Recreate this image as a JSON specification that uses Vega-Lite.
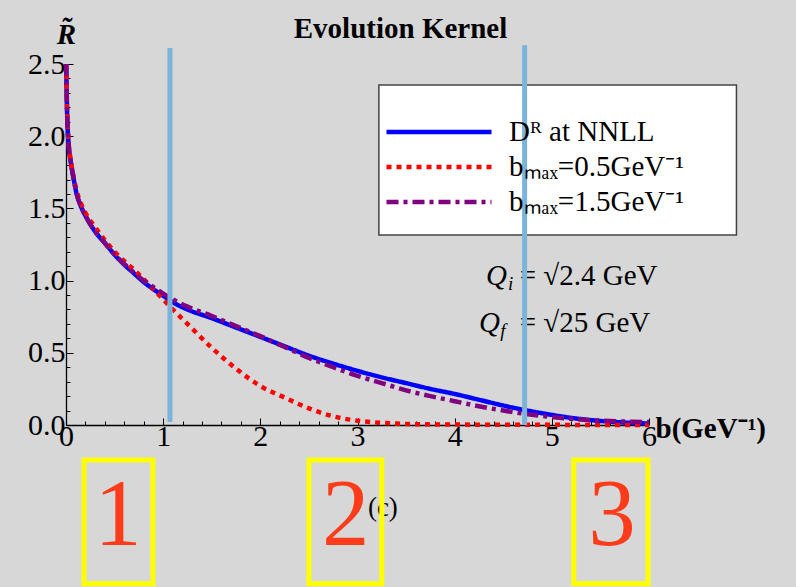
{
  "$schema": "https://vega.github.io/schema/vega-lite/v6.json",
  "width": 583,
  "height": 361,
  "autosize": {"type": "none"},
  "padding": {"left": 66, "top": 64, "right": 147, "bottom": 162},
  "background": "#d7d7d7",
  "config": {"view": {"stroke": null}, "font": "Liberation Serif"},
  "title": {"text": "Evolution Kernel", "font": "Liberation Serif", "fontSize": 29, "fontWeight": "bold", "color": "black", "anchor": "middle", "frame": "group", "dx": 43, "offset": -24},
  "encoding": {
    "x": {"field": "b", "type": "quantitative", "scale": {"domain": [0, 6], "nice": false, "zero": false},
      "axis": {
        "values": [0,0.2,0.4,0.6,0.8,1,1.2,1.4,1.6,1.8,2,2.2,2.4,2.6,2.8,3,3.2,3.4,3.6,3.8,4,4.2,4.4,4.6,4.8,5,5.2,5.4,5.6,5.8,6],
        "labelExpr": "abs(datum.value - round(datum.value)) < 1e-6 ? format(datum.value, 'd') : ''",
        "tickSize": {"condition": {"test": "abs(datum.value - round(datum.value)) < 1e-6", "value": -7}, "value": -4},
        "tickColor": "black", "tickWidth": 1, "domainColor": "black", "domainWidth": 1.3, "grid": false,
        "labelFont": "Liberation Serif", "labelFontSize": 30, "labelColor": "black", "labelPadding": 3, "labelOverlap": false, "labelFlush": false,
        "title": "b(GeV⁻¹)", "titleFont": "Liberation Serif", "titleFontSize": 29, "titleFontWeight": "bold", "titleColor": "black",
        "titleX": 589, "titleY": 12, "titleAlign": "left", "titleBaseline": "alphabetic", "titleAnchor": null
      }},
    "y": {"field": "y", "type": "quantitative", "scale": {"domain": [0, 2.5], "nice": false},
      "axis": {
        "values": [0,0.1,0.2,0.3,0.4,0.5,0.6,0.7,0.8,0.9,1,1.1,1.2,1.3,1.4,1.5,1.6,1.7,1.8,1.9,2,2.1,2.2,2.3,2.4,2.5],
        "labelExpr": "abs(datum.value*2 - round(datum.value*2)) < 1e-6 ? format(datum.value, '.1f') : ''",
        "tickSize": {"condition": {"test": "abs(datum.value*2 - round(datum.value*2)) < 1e-6", "value": -7}, "value": -4},
        "tickColor": "black", "tickWidth": 1, "domainColor": "black", "domainWidth": 1.3, "grid": false,
        "labelFont": "Liberation Serif", "labelFontSize": 30, "labelColor": "black", "labelPadding": 8, "labelOverlap": false, "labelFlush": false,
        "title": "R̃", "titleFont": "Liberation Serif", "titleFontSize": 29, "titleFontWeight": "bold", "titleFontStyle": "italic", "titleColor": "black",
        "titleAngle": 0, "titleX": 0, "titleY": -21, "titleAlign": "center", "titleBaseline": "alphabetic"
      }}
  },
  "layer": [
    {
      "data": {"values": [{"b": 3.22, "b2": 6.9, "y": 2.355, "y2": 1.316}]},
      "mark": {"type": "rect", "fill": "white", "stroke": "#444444", "strokeWidth": 1.5},
      "encoding": {"x2": {"field": "b2"}, "y2": {"field": "y2"}}
    },
    {
      "data": {"values": [
        {"series": "Dᴿ at NNLL", "b": 0.002, "y": 2.5},
        {"series": "Dᴿ at NNLL", "b": 0.01, "y": 2.2},
        {"series": "Dᴿ at NNLL", "b": 0.025, "y": 1.96},
        {"series": "Dᴿ at NNLL", "b": 0.05, "y": 1.82},
        {"series": "Dᴿ at NNLL", "b": 0.08, "y": 1.7},
        {"series": "Dᴿ at NNLL", "b": 0.11, "y": 1.6},
        {"series": "Dᴿ at NNLL", "b": 0.15, "y": 1.52},
        {"series": "Dᴿ at NNLL", "b": 0.2, "y": 1.45},
        {"series": "Dᴿ at NNLL", "b": 0.3, "y": 1.34},
        {"series": "Dᴿ at NNLL", "b": 0.4, "y": 1.26},
        {"series": "Dᴿ at NNLL", "b": 0.5, "y": 1.18},
        {"series": "Dᴿ at NNLL", "b": 0.6, "y": 1.11},
        {"series": "Dᴿ at NNLL", "b": 0.7, "y": 1.05},
        {"series": "Dᴿ at NNLL", "b": 0.8, "y": 0.99},
        {"series": "Dᴿ at NNLL", "b": 0.9, "y": 0.94},
        {"series": "Dᴿ at NNLL", "b": 1.0, "y": 0.895},
        {"series": "Dᴿ at NNLL", "b": 1.1, "y": 0.85},
        {"series": "Dᴿ at NNLL", "b": 1.25, "y": 0.8},
        {"series": "Dᴿ at NNLL", "b": 1.5, "y": 0.74},
        {"series": "Dᴿ at NNLL", "b": 1.75, "y": 0.675},
        {"series": "Dᴿ at NNLL", "b": 2.0, "y": 0.61},
        {"series": "Dᴿ at NNLL", "b": 2.25, "y": 0.545},
        {"series": "Dᴿ at NNLL", "b": 2.5, "y": 0.48},
        {"series": "Dᴿ at NNLL", "b": 2.75, "y": 0.425},
        {"series": "Dᴿ at NNLL", "b": 3.0, "y": 0.375},
        {"series": "Dᴿ at NNLL", "b": 3.25, "y": 0.33},
        {"series": "Dᴿ at NNLL", "b": 3.5, "y": 0.29},
        {"series": "Dᴿ at NNLL", "b": 3.75, "y": 0.25},
        {"series": "Dᴿ at NNLL", "b": 4.0, "y": 0.215},
        {"series": "Dᴿ at NNLL", "b": 4.25, "y": 0.175},
        {"series": "Dᴿ at NNLL", "b": 4.5, "y": 0.135},
        {"series": "Dᴿ at NNLL", "b": 4.75, "y": 0.1},
        {"series": "Dᴿ at NNLL", "b": 5.0, "y": 0.07},
        {"series": "Dᴿ at NNLL", "b": 5.25, "y": 0.045},
        {"series": "Dᴿ at NNLL", "b": 5.5, "y": 0.028},
        {"series": "Dᴿ at NNLL", "b": 5.75, "y": 0.017},
        {"series": "Dᴿ at NNLL", "b": 6.0, "y": 0.01},
        {"series": "bₘₐₓ=0.5GeV⁻¹", "b": 0.002, "y": 2.5},
        {"series": "bₘₐₓ=0.5GeV⁻¹", "b": 0.01, "y": 2.22},
        {"series": "bₘₐₓ=0.5GeV⁻¹", "b": 0.025, "y": 1.98},
        {"series": "bₘₐₓ=0.5GeV⁻¹", "b": 0.05, "y": 1.83},
        {"series": "bₘₐₓ=0.5GeV⁻¹", "b": 0.08, "y": 1.71},
        {"series": "bₘₐₓ=0.5GeV⁻¹", "b": 0.11, "y": 1.62},
        {"series": "bₘₐₓ=0.5GeV⁻¹", "b": 0.15, "y": 1.54},
        {"series": "bₘₐₓ=0.5GeV⁻¹", "b": 0.2, "y": 1.47},
        {"series": "bₘₐₓ=0.5GeV⁻¹", "b": 0.3, "y": 1.37},
        {"series": "bₘₐₓ=0.5GeV⁻¹", "b": 0.4, "y": 1.28},
        {"series": "bₘₐₓ=0.5GeV⁻¹", "b": 0.5, "y": 1.2},
        {"series": "bₘₐₓ=0.5GeV⁻¹", "b": 0.6, "y": 1.135},
        {"series": "bₘₐₓ=0.5GeV⁻¹", "b": 0.7, "y": 1.075},
        {"series": "bₘₐₓ=0.5GeV⁻¹", "b": 0.8, "y": 1.01},
        {"series": "bₘₐₓ=0.5GeV⁻¹", "b": 0.9, "y": 0.94},
        {"series": "bₘₐₓ=0.5GeV⁻¹", "b": 1.0, "y": 0.87},
        {"series": "bₘₐₓ=0.5GeV⁻¹", "b": 1.1, "y": 0.8},
        {"series": "bₘₐₓ=0.5GeV⁻¹", "b": 1.25, "y": 0.7},
        {"series": "bₘₐₓ=0.5GeV⁻¹", "b": 1.5, "y": 0.535},
        {"series": "bₘₐₓ=0.5GeV⁻¹", "b": 1.75, "y": 0.39},
        {"series": "bₘₐₓ=0.5GeV⁻¹", "b": 2.0, "y": 0.27},
        {"series": "bₘₐₓ=0.5GeV⁻¹", "b": 2.25, "y": 0.19},
        {"series": "bₘₐₓ=0.5GeV⁻¹", "b": 2.5, "y": 0.115},
        {"series": "bₘₐₓ=0.5GeV⁻¹", "b": 2.75, "y": 0.06},
        {"series": "bₘₐₓ=0.5GeV⁻¹", "b": 3.0, "y": 0.03},
        {"series": "bₘₐₓ=0.5GeV⁻¹", "b": 3.25, "y": 0.015},
        {"series": "bₘₐₓ=0.5GeV⁻¹", "b": 3.5, "y": 0.007},
        {"series": "bₘₐₓ=0.5GeV⁻¹", "b": 4.0, "y": 0.003},
        {"series": "bₘₐₓ=0.5GeV⁻¹", "b": 5.0, "y": 0.001},
        {"series": "bₘₐₓ=0.5GeV⁻¹", "b": 6.0, "y": 0.0},
        {"series": "bₘₐₓ=1.5GeV⁻¹", "b": 0.002, "y": 2.5},
        {"series": "bₘₐₓ=1.5GeV⁻¹", "b": 0.01, "y": 2.2},
        {"series": "bₘₐₓ=1.5GeV⁻¹", "b": 0.025, "y": 1.96},
        {"series": "bₘₐₓ=1.5GeV⁻¹", "b": 0.05, "y": 1.82},
        {"series": "bₘₐₓ=1.5GeV⁻¹", "b": 0.08, "y": 1.7},
        {"series": "bₘₐₓ=1.5GeV⁻¹", "b": 0.11, "y": 1.6},
        {"series": "bₘₐₓ=1.5GeV⁻¹", "b": 0.15, "y": 1.52},
        {"series": "bₘₐₓ=1.5GeV⁻¹", "b": 0.2, "y": 1.45},
        {"series": "bₘₐₓ=1.5GeV⁻¹", "b": 0.3, "y": 1.34},
        {"series": "bₘₐₓ=1.5GeV⁻¹", "b": 0.4, "y": 1.26},
        {"series": "bₘₐₓ=1.5GeV⁻¹", "b": 0.5, "y": 1.18},
        {"series": "bₘₐₓ=1.5GeV⁻¹", "b": 0.6, "y": 1.115},
        {"series": "bₘₐₓ=1.5GeV⁻¹", "b": 0.7, "y": 1.055},
        {"series": "bₘₐₓ=1.5GeV⁻¹", "b": 0.8, "y": 1.0},
        {"series": "bₘₐₓ=1.5GeV⁻¹", "b": 0.9, "y": 0.955},
        {"series": "bₘₐₓ=1.5GeV⁻¹", "b": 1.0, "y": 0.91},
        {"series": "bₘₐₓ=1.5GeV⁻¹", "b": 1.1, "y": 0.87},
        {"series": "bₘₐₓ=1.5GeV⁻¹", "b": 1.25, "y": 0.82},
        {"series": "bₘₐₓ=1.5GeV⁻¹", "b": 1.5, "y": 0.755},
        {"series": "bₘₐₓ=1.5GeV⁻¹", "b": 1.75, "y": 0.685},
        {"series": "bₘₐₓ=1.5GeV⁻¹", "b": 2.0, "y": 0.615},
        {"series": "bₘₐₓ=1.5GeV⁻¹", "b": 2.25, "y": 0.54},
        {"series": "bₘₐₓ=1.5GeV⁻¹", "b": 2.5, "y": 0.465},
        {"series": "bₘₐₓ=1.5GeV⁻¹", "b": 2.75, "y": 0.4},
        {"series": "bₘₐₓ=1.5GeV⁻¹", "b": 3.0, "y": 0.34},
        {"series": "bₘₐₓ=1.5GeV⁻¹", "b": 3.25, "y": 0.29},
        {"series": "bₘₐₓ=1.5GeV⁻¹", "b": 3.5, "y": 0.24},
        {"series": "bₘₐₓ=1.5GeV⁻¹", "b": 3.75, "y": 0.2},
        {"series": "bₘₐₓ=1.5GeV⁻¹", "b": 4.0, "y": 0.165},
        {"series": "bₘₐₓ=1.5GeV⁻¹", "b": 4.25, "y": 0.13},
        {"series": "bₘₐₓ=1.5GeV⁻¹", "b": 4.5, "y": 0.1},
        {"series": "bₘₐₓ=1.5GeV⁻¹", "b": 4.75, "y": 0.075},
        {"series": "bₘₐₓ=1.5GeV⁻¹", "b": 5.0, "y": 0.055},
        {"series": "bₘₐₓ=1.5GeV⁻¹", "b": 5.25, "y": 0.04},
        {"series": "bₘₐₓ=1.5GeV⁻¹", "b": 5.5, "y": 0.03},
        {"series": "bₘₐₓ=1.5GeV⁻¹", "b": 5.75, "y": 0.024},
        {"series": "bₘₐₓ=1.5GeV⁻¹", "b": 6.0, "y": 0.02}
      ]},
      "mark": {"type": "line", "strokeWidth": 4.5, "interpolate": "monotone", "strokeCap": "butt"},
      "encoding": {
        "color": {"field": "series", "type": "nominal", "title": null,
          "scale": {"domain": ["Dᴿ at NNLL", "bₘₐₓ=0.5GeV⁻¹", "bₘₐₓ=1.5GeV⁻¹"], "range": ["#0000ff", "#ff0000", "#800080"]},
          "legend": {"orient": "none", "legendX": 318, "legendY": 53, "padding": 0, "symbolType": "stroke", "symbolSize": 11025, "symbolStrokeWidth": 4.5, "clipHeight": 30, "labelFont": "Liberation Serif", "labelFontSize": 29, "labelColor": "black", "labelOffset": 15, "rowPadding": 5, "labelLimit": 400}},
        "strokeDash": {"field": "series", "type": "nominal", "title": null,
          "scale": {"domain": ["Dᴿ at NNLL", "bₘₐₓ=0.5GeV⁻¹", "bₘₐₓ=1.5GeV⁻¹"], "range": [[1, 0], [5, 5], [12, 5, 4, 5]]},
          "legend": {"orient": "none", "legendX": 318, "legendY": 53, "padding": 0, "symbolType": "stroke", "symbolSize": 11025, "symbolStrokeWidth": 4.5, "clipHeight": 30, "labelFont": "Liberation Serif", "labelFontSize": 29, "labelColor": "black", "labelOffset": 15, "rowPadding": 5, "labelLimit": 400}}
      }
    },
    {
      "data": {"values": [{"b": 4.537, "y": 0.97, "t": "Q"}, {"b": 4.465, "y": 0.644, "t": "Q"}]},
      "mark": {"type": "text", "font": "Liberation Serif", "fontSize": 29, "fontStyle": "italic", "align": "right", "baseline": "alphabetic", "color": "black"},
      "encoding": {"text": {"field": "t"}}
    },
    {
      "data": {"values": [{"b": 4.55, "y": 0.935, "t": "i"}, {"b": 4.47, "y": 0.609, "t": "f"}]},
      "mark": {"type": "text", "font": "Liberation Serif", "fontSize": 19, "fontStyle": "italic", "align": "left", "baseline": "alphabetic", "color": "black"},
      "encoding": {"text": {"field": "t"}}
    },
    {
      "data": {"values": [{"b": 4.67, "y": 0.97, "t": "= √2.4  GeV"}, {"b": 4.67, "y": 0.644, "t": "= √25  GeV"}]},
      "mark": {"type": "text", "font": "Liberation Serif", "fontSize": 29, "align": "left", "baseline": "alphabetic", "color": "black"},
      "encoding": {"text": {"field": "t"}}
    },
    {
      "data": {"values": [{"b": 3.107, "y": -0.63, "t": "(c)"}]},
      "mark": {"type": "text", "font": "Liberation Serif", "fontSize": 27, "align": "left", "baseline": "alphabetic", "color": "black"},
      "encoding": {"text": {"field": "t"}}
    },
    {
      "data": {"values": [{"b": 1.07, "y": 2.61, "y2": 0.02}, {"b": 4.72, "y": 2.63, "y2": 0}]},
      "mark": {"type": "rule", "color": "#7bb4da", "strokeWidth": 5},
      "encoding": {"y2": {"field": "y2"}}
    },
    {
      "data": {"values": [
        {"b": 0.185, "b2": 0.895, "y": -0.242, "y2": -1.1},
        {"b": 2.5, "b2": 3.25, "y": -0.242, "y2": -1.1},
        {"b": 5.226, "b2": 5.99, "y": -0.242, "y2": -1.1}
      ]},
      "mark": {"type": "rect", "fill": null, "stroke": "#ffff00", "strokeWidth": 5},
      "encoding": {"x2": {"field": "b2"}, "y2": {"field": "y2"}}
    },
    {
      "data": {"values": [{"b": 0.535, "y": -0.831, "t": "1"}, {"b": 2.88, "y": -0.831, "t": "2"}, {"b": 5.62, "y": -0.831, "t": "3"}]},
      "mark": {"type": "text", "font": "Liberation Serif", "fontSize": 95, "align": "center", "baseline": "alphabetic", "color": "#ff3b1a"},
      "encoding": {"text": {"field": "t"}}
    }
  ]
}
